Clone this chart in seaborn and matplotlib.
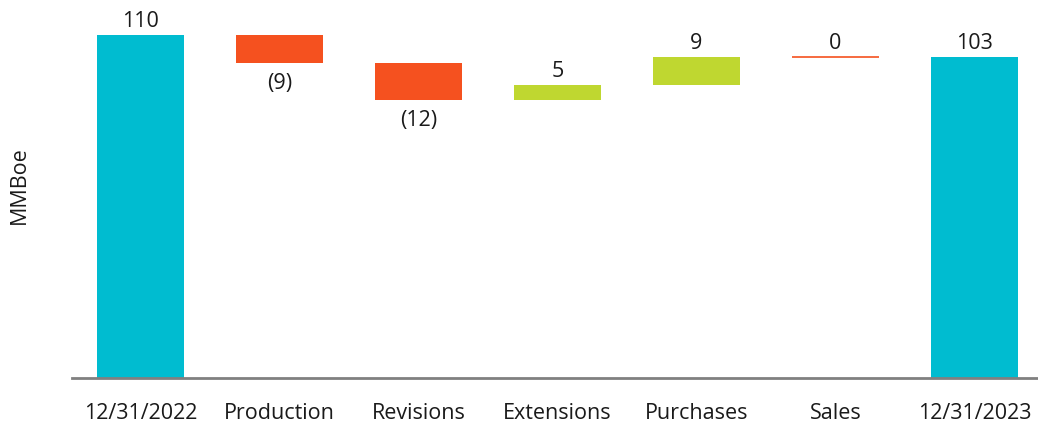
import matplotlib
matplotlib.use("Agg")
import matplotlib.pyplot as plt
import numpy as np
import pandas as pd
import seaborn as sns

# --- data ------------------------------------------------------------------
categories = ["12/31/2022", "Production", "Revisions", "Extensions",
              "Purchases", "Sales", "12/31/2023"]
changes = [110, -9, -12, 5, 9, 0, 103]
is_total = [True, False, False, False, False, False, True]
labels = ["110", "(9)", "(12)", "5", "9", "0", "103"]

CYAN = "#00BCD0"
RED = "#F5511F"
GREEN = "#BFD730"

sns.set_theme(style="white")
plt.rcParams["font.family"] = ["Open Sans", "DejaVu Sans"]

# floating bar extents
bottoms, heights, colors = [], [], []
level = 0
for v, tot in zip(changes, is_total):
    if tot:
        bottoms.append(0); heights.append(v); colors.append(CYAN)
        level = v
    else:
        lo, hi = sorted([level, level + v])
        bottoms.append(lo); heights.append(hi - lo)
        colors.append(RED if v <= 0 else GREEN)
        level += v
df = pd.DataFrame({"cat": categories, "h": heights})

fig = plt.figure(figsize=(10.38, 4.25), dpi=100)
ax = fig.add_axes([72 / 1038, 47 / 425, 966 / 1038, 378 / 425])
sns.barplot(data=df, x="cat", y="h", hue="cat", palette=colors,
            width=0.626, legend=False, saturation=1, ax=ax)

FS = 15.5
for p, b, h, v, lab in zip(ax.patches, bottoms, heights, changes, labels):
    p.set_y(b); p.set_height(h); p.set_linewidth(0)
    xc = p.get_x() + p.get_width() / 2
    if h == 0:
        p.set_edgecolor(RED); p.set_linewidth(1.2)
    if v < 0:
        ax.text(xc, b - 3.2, lab, ha="center", va="top", fontsize=FS, color="#1a1a1a")
    else:
        ax.text(xc, b + h + 1.0, lab, ha="center", va="bottom", fontsize=FS, color="#1a1a1a")

ax.set_xlim(-0.492, 6.457)
ax.set_ylim(0, 121.2)
ax.set_yticks([])
ax.set_xlabel("")
ax.set_ylabel("MMBoe", fontsize=15.5, color="#1a1a1a", labelpad=22)
ax.yaxis.set_label_coords(-0.044, 0.51)
for s in ["top", "right", "left"]:
    ax.spines[s].set_visible(False)
ax.spines["bottom"].set_color("#808080")
ax.spines["bottom"].set_linewidth(2)
ax.tick_params(axis="x", length=0, pad=18, labelsize=FS, labelcolor="#1a1a1a")

fig.savefig("out.png", dpi=100)
